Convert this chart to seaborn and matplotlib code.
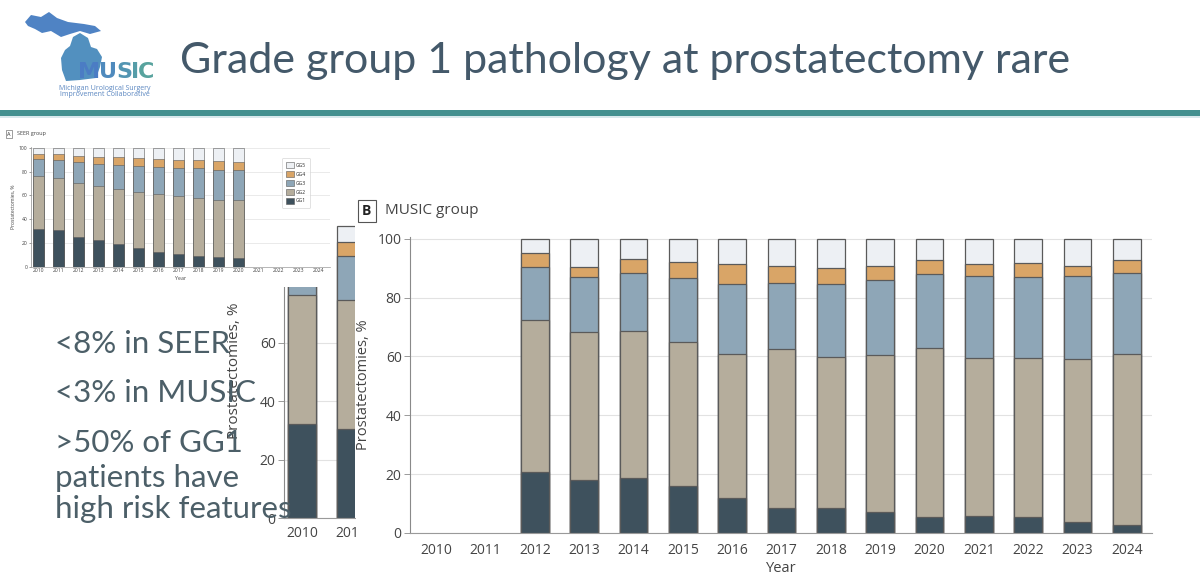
import numpy as np
import matplotlib
matplotlib.use("Agg")
import matplotlib.pyplot as plt
from matplotlib.patches import Patch, Polygon, Rectangle
import seaborn as sns

# -- data
YEARS = [str(y) for y in range(2010, 2025)]
GRADES = ["GG1", "GG2", "GG3", "GG4", "GG5"]

seer_years = [str(y) for y in range(2010, 2021)]
seer_gg1 = [32.2, 30.6, 25.3, 22.5, 19.4, 15.8, 12.8, 10.6, 9.4, 8.3, 7.5]
seer_gg2 = [44.2, 44.1, 45.5, 45.6, 46.4, 46.7, 48.0, 48.6, 48.7, 48.1, 48.9]
seer_gg3 = [14.4, 15.0, 17.3, 18.6, 20.0, 22.2, 23.4, 23.9, 24.7, 25.3, 25.3]
seer_gg4 = [4.2, 4.7, 5.2, 5.8, 6.1, 6.7, 6.6, 6.6, 6.6, 6.9, 6.4]
seer_gg5 = [5.0, 5.6, 6.7, 7.5, 8.1, 8.6, 9.2, 10.3, 10.6, 11.4, 11.9]

music_years = [str(y) for y in range(2012, 2025)]
music_gg1 = [20.7, 17.9, 18.7, 16.1, 11.8, 8.5, 8.5, 7.2, 5.5, 5.7, 5.5, 3.9, 2.8]
music_gg2 = [51.6, 50.3, 50.0, 48.9, 48.9, 54.1, 51.3, 53.2, 57.5, 53.9, 54.1, 55.4, 58.0]
music_gg3 = [18.0, 18.8, 19.7, 21.6, 23.9, 22.4, 24.8, 25.6, 25.0, 27.6, 27.4, 28.0, 27.4]
music_gg4 = [4.7, 3.4, 4.8, 5.5, 6.7, 5.9, 5.4, 4.6, 4.8, 4.1, 4.6, 3.4, 4.6]
music_gg5 = [5.0, 9.6, 6.8, 7.9, 8.7, 9.1, 10.0, 9.4, 7.2, 8.7, 8.4, 9.3, 7.2]

bullets = ["<8% in SEER", "<3% in MUSIC", ">50% of GG1", "patients have", "high risk features"]

# -- styling
COLORS = ["#3e515d", "#b5ad9c", "#8ea6b7", "#d9a567", "#edf0f4"]
EDGE = "#5a5a5a"
GRID = "#e2e2e2"
TEXT = "#44596a"
CHART_FONT = ["Open Sans", "DejaVu Sans"]
SLIDE_FONT = ["Lato", "DejaVu Sans"]

sns.set_theme(style="white")
plt.rcParams["font.family"] = CHART_FONT

W, H = 1200, 575
fig = plt.figure(figsize=(W / 100, H / 100), dpi=100)
fig.patch.set_facecolor("white")


def px_axes(x0, y0, x1, y1, z):
    ax = fig.add_axes([x0 / W, 1 - y1 / H, (x1 - x0) / W, (y1 - y0) / H])
    ax.set_zorder(z)
    return ax


def fy(y):
    return 1 - y / H


def white_box(x0, y0, x1, y1, z):
    fig.add_artist(Rectangle((x0 / W, fy(y1)), (x1 - x0) / W, (y1 - y0) / H,
                             transform=fig.transFigure, fc="white", ec="none", zorder=z))


def stacked(ax, years, shares, width, lw):
    cum = np.cumsum(np.array(shares), axis=0)
    # draw from the top of the stack down so lower segments overpaint
    for i in range(len(shares) - 1, -1, -1):
        sns.barplot(x=years, y=cum[i], order=YEARS, color=COLORS[i],
                    saturation=1, width=width, edgecolor=EDGE,
                    linewidth=lw, errorbar=None, ax=ax)


def style_axes(ax, fs, tick_len):
    ax.set_ylim(0, 100.6)
    ax.set_yticks([0, 20, 40, 60, 80, 100])
    ax.yaxis.grid(True, color=GRID, lw=0.8)
    ax.set_axisbelow(True)
    for s in ["top", "right"]:
        ax.spines[s].set_visible(False)
    ax.spines["left"].set_color("#8a8a8a")
    ax.spines["bottom"].set_color("#9a9a9a")
    ax.spines["left"].set_linewidth(0.8)
    ax.spines["bottom"].set_linewidth(0.8)
    ax.tick_params(axis="y", length=tick_len, width=0.6, color="#8a8a8a",
                   labelsize=fs, labelcolor="#444444", pad=2, left=True)
    ax.tick_params(axis="x", length=0, labelsize=fs, labelcolor="#444444")
    ax.set_xlabel("")
    ax.set_ylabel("")


seer = [seer_gg1, seer_gg2, seer_gg3, seer_gg4, seer_gg5]
music = [music_gg1, music_gg2, music_gg3, music_gg4, music_gg5]

# -- enlarged SEER fragment (partly hidden behind the small SEER panel)
frag = px_axes(284, 224, 355, 518, 1)
stacked(frag, seer_years, seer, 0.57, 0.9)
style_axes(frag, 10, 4)
frag.set_yticks([0, 20, 40, 60])
frag.set_xlim(-0.367, 1.08)
frag.set_ylabel("Prostatectomies, %", fontsize=11, color="#444444", labelpad=13)
frag.tick_params(axis="x", pad=6)

# -- small SEER panel
white_box(0, 124, 336, 287, 2)

ax_a = px_axes(31, 147, 330, 267, 3)
stacked(ax_a, seer_years, seer, 0.55, 0.4)
style_axes(ax_a, 3.6, 1.5)
ax_a.set_xlim(-0.4, 14.6)
ax_a.spines["left"].set_linewidth(0.5)
ax_a.spines["bottom"].set_linewidth(0.5)
ax_a.yaxis.grid(True, color=GRID, lw=0.5)
ax_a.tick_params(axis="both", pad=1)
ax_a.set_ylabel("Prostatectomies, %", fontsize=3.6, color="#444444", labelpad=2)
ax_a.set_xlabel("Year", fontsize=3.8, color="#444444", labelpad=2)
handles = [Patch(facecolor=COLORS[i], edgecolor=EDGE, linewidth=0.4, label=GRADES[i])
           for i in range(4, -1, -1)]
leg = ax_a.legend(handles=handles, loc="upper left", bbox_to_anchor=(0.83, 0.93),
                  fontsize=3.6, frameon=True, handlelength=1.6, handleheight=1.6,
                  borderpad=0.8, labelspacing=0.5, handletextpad=0.5)
leg.get_frame().set_edgecolor("#cccccc")
leg.get_frame().set_linewidth(0.5)
fig.text(7 / W, fy(134), "A", fontsize=4, color="#333333", va="center", zorder=3.5,
         bbox=dict(boxstyle="square,pad=0.25", fc="white", ec="#555555", lw=0.4))
fig.text(17 / W, fy(134), "SEER group", fontsize=4, color="#444444", va="center",
         zorder=3.5)

# -- MUSIC panel
white_box(356, 195, 1200, 575, 4)

ax_b = px_axes(410, 237, 1152, 533, 5)
stacked(ax_b, music_years, music, 0.56, 0.9)
style_axes(ax_b, 10, 4)
ax_b.set_xlim(-0.53, 14.51)
ax_b.tick_params(axis="x", pad=7)
ax_b.set_ylabel("Prostatectomies, %", fontsize=10.5, color="#444444", labelpad=5)
ax_b.set_xlabel("Year", fontsize=10.5, color="#444444", labelpad=2)
fig.text(362 / W, fy(211), "B", fontsize=10, color="#222222", weight="bold",
         va="center", zorder=10,
         bbox=dict(boxstyle="square,pad=0.3", fc="white", ec="#555555", lw=0.8))
fig.text(385 / W, fy(211), "MUSIC group", fontsize=11, color="#444444",
         va="center", zorder=10)

# -- slide header
fig.text(180 / W, fy(73), "Grade group 1 pathology at prostatectomy rare",
         fontsize=31, color=TEXT, family=SLIDE_FONT, va="baseline", zorder=10)
fig.add_artist(Rectangle((0, fy(116)), 1, 6 / H, transform=fig.transFigure,
                         fc="#43908f", ec="none", zorder=10))
fig.add_artist(Rectangle((0, fy(118)), 1, 2 / H, transform=fig.transFigure,
                         fc="#d8e8ec", ec="none", zorder=10))

# logo: rough Michigan outline plus wordmark
upper = [(25, 22), (31, 15), (41, 17), (49, 12), (57, 18), (68, 22), (84, 24),
         (95, 26), (101, 31), (90, 34), (80, 31), (70, 34), (61, 37), (51, 31),
         (42, 33), (35, 29), (28, 26)]
lower = [(70, 46), (73, 37), (80, 33), (88, 38), (91, 47), (97, 49), (102, 57),
         (100, 67), (96, 78), (80, 80), (66, 81), (62, 70), (61, 58), (65, 50)]
for shape, col in [(upper, "#4f83c4"), (lower, "#5290bf")]:
    fig.add_artist(Polygon([(x / W, fy(y)) for x, y in shape], closed=True,
                           transform=fig.transFigure, fc=col, ec="none", zorder=10))

renderer = fig.canvas.get_renderer()
x = 78
for letter, col in [("M", "#4b7cc4"), ("U", "#4f8abd"), ("S", "#5395b2"),
                    ("I", "#569da8"), ("C", "#58a39e")]:
    t = fig.text(x / W, fy(78), letter, fontsize=16, weight="bold", color=col,
                 family=["DejaVu Sans"], va="baseline", zorder=11)
    x = t.get_window_extent(renderer).x1 - 1
fig.text(105 / W, fy(88), "Michigan Urological Surgery", fontsize=5, color="#5a86c0",
         ha="center", va="center", zorder=11)
fig.text(105 / W, fy(95), "Improvement Collaborative", fontsize=5, color="#5a86c0",
         ha="center", va="center", zorder=11)

# -- bullet text
for txt, base in zip(bullets, [353, 402, 452, 487, 518]):
    fig.text(55 / W, fy(base), txt, fontsize=22.5, color="#4c5f68",
             family=SLIDE_FONT, va="baseline", zorder=12)

fig.savefig("out.png", dpi=100, facecolor="white")
